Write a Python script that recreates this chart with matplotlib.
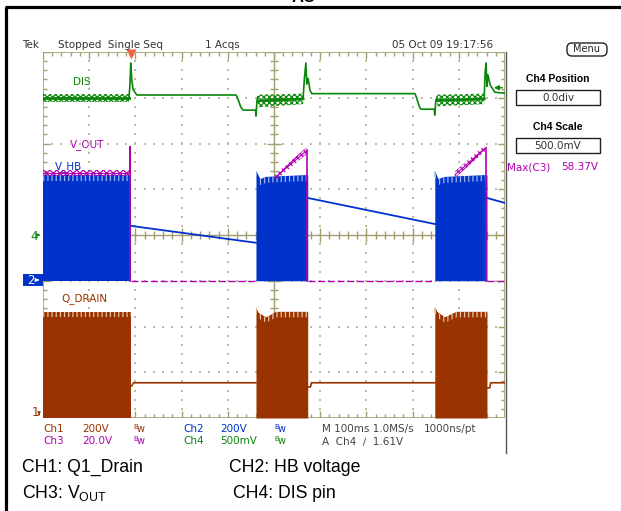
import numpy as np
import matplotlib.pyplot as plt
from matplotlib.collections import LineCollection
from matplotlib.patches import Rectangle, FancyBboxPatch

plt.rcParams["mathtext.fontset"] = "custom"
plt.rcParams["mathtext.rm"] = "Liberation Sans"
plt.rcParams["hatch.linewidth"] = 0.9

# ---- data (x in divisions at 100 ms/div, y in divisions, 8 div tall) ----
hb_top_x = [[0.0, 1.90], [4.61, 4.70, 4.83, 5.73], [8.48, 8.55, 8.70, 9.61]]
hb_top_y = [[5.31, 5.31], [5.40, 5.22, 5.27, 5.31], [5.40, 5.22, 5.27, 5.31]]
hb_ground = 3.0
hb_decay_x = [[1.90, 4.61], [5.73, 8.48], [9.61, 10.0]]
hb_decay_y = [[4.20, 3.83], [4.81, 4.24], [4.81, 4.70]]

drain_top_x = [[0.0, 1.90], [4.61, 4.66, 4.83, 5.05, 5.73], [8.48, 8.53, 8.70, 8.95, 9.61]]
drain_top_y = [[2.32, 2.32], [2.40, 2.30, 2.20, 2.32, 2.32], [2.42, 2.32, 2.20, 2.32, 2.32]]
drain_ground = 0.0
drain_off_x = [[1.90, 1.92, 1.96, 4.61], [5.73, 5.79, 5.81, 8.48], [9.61, 9.67, 9.69, 10.0]]
drain_off_y = [[0.70, 0.70, 0.77, 0.77], [0.68, 0.68, 0.77, 0.77], [0.66, 0.66, 0.77, 0.77]]

vout_ground = 3.0
vout_on_x = [[0.0, 1.87], [5.02, 5.71], [8.92, 9.57]]
vout_on_y = [[5.36, 5.36], [5.25, 5.85], [5.32, 5.90]]
vout_peak_x = [1.89, 5.72, 9.59]
vout_peak_y = [5.92, 5.86, 5.90]
vout_off_x = [[1.90, 4.61], [5.73, 8.48], [9.61, 10.0]]

dis_ripple_x = [[0.0, 1.86], [4.65, 5.63], [8.53, 9.55]]
dis_ripple_lo = [[6.90, 6.90], [6.79, 6.86], [6.81, 6.86]]
dis_ripple_hi = [[7.09, 7.09], [7.07, 7.09], [7.07, 7.09]]
dis_x = [
    [1.86, 1.88, 1.90, 1.92, 1.95, 2.03, 4.18, 4.22, 4.28, 4.33, 4.60, 4.61, 4.63, 4.65],
    [5.63, 5.66, 5.69, 5.71, 5.74, 5.78, 5.82, 8.05, 8.09, 8.14, 8.18, 8.47, 8.48, 8.50, 8.53],
    [9.55, 9.57, 9.59, 9.61, 9.63, 9.68, 9.78, 10.0],
]
dis_y = [
    [6.99, 7.25, 7.76, 7.40, 7.18, 7.06, 7.06, 6.97, 6.80, 6.73, 6.73, 6.60, 6.92, 7.02],
    [7.00, 7.45, 7.76, 7.30, 7.42, 7.16, 7.09, 7.09, 6.99, 6.82, 6.75, 6.75, 6.62, 6.92, 7.02],
    [7.00, 7.55, 7.76, 7.25, 7.50, 7.28, 7.12, 7.10],
]
trig_level = 7.22

row1 = [("Ch1", "brown"), ("200V", "brown"), ("Bw", "brown"), ("Ch2", "blue"),
        ("200V", "blue"), ("Bw", "blue"), ("M 100ms 1.0MS/s", "gray"), ("1000ns/pt", "gray")]
row2 = [("Ch3", "mag"), ("20.0V", "mag"), ("Bw", "mag"), ("Ch4", "green"),
        ("500mV", "green"), ("Bw", "green"), ("A  Ch4  \u2215  1.61V", "gray")]
row_x = [43, 82, 133, 183, 220, 274, 322, 424]

C = {"brown": "#993300", "blue": "#0033cc", "mag": "#b000b0",
     "green": "#0a870a", "gray": "#444444"}
grat = "#a19e70"
scope_font = ["Liberation Sans Narrow", "DejaVu Sans"]

W, H = 621, 511
fig = plt.figure(figsize=(W / 100, H / 100), dpi=100)
page = fig.add_axes([0, 0, 1, 1])
page.set_xlim(0, W)
page.set_ylim(H, 0)
page.axis("off")

GX0, GX1, GY0, GY1 = 43, 505, 52, 418
ax = fig.add_axes([GX0 / W, 1 - GY1 / H, (GX1 - GX0) / W, (GY1 - GY0) / H])
ax.set_xlim(0, 10)
ax.set_ylim(0, 8)
ax.axis("off")

# ---- graticule ----
dots = np.arange(0.2, 10, 0.2)
for gx in range(1, 10):
    if gx != 5:
        yy = np.arange(0.2, 8, 0.2)
        ax.scatter(np.full_like(yy, gx), yy, s=0.9, marker="s", color="#bdbba4", lw=0, zorder=1)
for gy in range(1, 8):
    if gy != 4:
        ax.scatter(dots, np.full_like(dots, gy), s=0.9, marker="s", color="#bdbba4", lw=0, zorder=1)

segs = []
for t in np.arange(0, 10.001, 0.2):
    big = abs(t - round(t)) < 1e-6
    lx = 0.15 if big else 0.085
    segs.append([(t, 4 - lx), (t, 4 + lx)])
    segs.append([(t, 8), (t, 8 - lx)])
    segs.append([(t, 0), (t, lx)])
for t in np.arange(0, 8.001, 0.2):
    big = abs(t - round(t)) < 1e-6
    lx = 0.15 if big else 0.085
    segs.append([(5 - lx, t), (5 + lx, t)])
    segs.append([(10, t), (10 - lx, t)])
    segs.append([(0, t), (lx, t)])
ax.add_collection(LineCollection(segs, colors=grat, lw=1.0, zorder=1))
ax.axhline(4, color=grat, lw=1.0, zorder=1)
ax.axvline(5, color=grat, lw=1.0, zorder=1)
ax.add_patch(Rectangle((0, 0), 10, 8, fill=False, ec=grat, lw=1.2, zorder=1))

# ---- CH1 drain ----
for xs, ys in zip(drain_top_x, drain_top_y):
    ax.fill_between(xs, drain_ground, ys, color=C["brown"], lw=0, zorder=3)
    ax.fill_between(xs, np.array(ys) - 0.12, ys, facecolor=C["brown"], edgecolor="#e9c0a6",
                    hatch="||||", lw=0, zorder=3.1)
for xs, ys in zip(drain_off_x, drain_off_y):
    ax.plot(xs, ys, color=C["brown"], lw=1.2, zorder=3)

# ---- CH2 half bridge ----
for xs, ys in zip(hb_top_x, hb_top_y):
    ax.fill_between(xs, hb_ground, ys, color=C["blue"], lw=0, zorder=3)
    ax.fill_between(xs, np.array(ys) - 0.13, ys, facecolor=C["blue"], edgecolor="#9db2f0",
                    hatch="||||", lw=0, zorder=3.1)
for xs, ys in zip(hb_decay_x, hb_decay_y):
    ax.plot(xs, ys, color=C["blue"], lw=1.3, zorder=3)

# ---- CH3 output ----
for xs, ys in zip(vout_on_x, vout_on_y):
    xs = np.array(xs)
    ys = np.array(ys)
    ax.fill_between(xs, ys - 0.07, ys + 0.07, facecolor="none", edgecolor=C["mag"],
                    hatch="xxxxx", lw=0, zorder=4)
    ax.plot(xs, ys, color=C["mag"], lw=0.8, zorder=4)
for xs, px, py, y0 in zip(vout_off_x, vout_peak_x, vout_peak_y, [5.36, 5.85, 5.90]):
    ax.plot([px, px, px], [y0, py, vout_ground], color=C["mag"], lw=1.2, zorder=4)
    ax.plot(xs, [vout_ground, vout_ground], color=C["mag"], lw=1.0,
            ls=(0, (5, 2)), zorder=4)

# ---- CH4 DIS ----
for xs, lo, hi in zip(dis_ripple_x, dis_ripple_lo, dis_ripple_hi):
    ax.fill_between(xs, lo, hi, facecolor="none", edgecolor=C["green"],
                    hatch="xxxxxx", lw=0, zorder=5)
    ax.plot(xs, (np.array(lo) + np.array(hi)) / 2, color=C["green"], lw=2.0, zorder=5)
for xs, ys in zip(dis_x, dis_y):
    ax.plot(xs, ys, color=C["green"], lw=1.2, zorder=5)
ax.annotate("", xy=(9.7, trig_level), xytext=(10.0, trig_level),
            arrowprops=dict(arrowstyle="-|>", color=C["green"], lw=1.0, mutation_scale=7),
            zorder=6)

# trace labels
tk = dict(family=scope_font, fontsize=7.5, va="center", zorder=7)
page.text(73, 82, "DIS", color=C["green"], **tk)
page.text(70, 145, "V_OUT", color=C["mag"], **tk)
page.text(55, 167, "V_HB", color=C["blue"], **tk)
page.text(61, 299, "Q_DRAIN", color=C["brown"], **tk)

# ground markers
page.text(30, 236, "4", color=C["green"], family=scope_font, fontsize=8.5, va="center")
page.annotate("", xy=(43, 235), xytext=(36, 235),
              arrowprops=dict(arrowstyle="-|>", color=C["green"], lw=0.8, mutation_scale=5))
page.add_patch(Rectangle((23, 274), 20, 12, color=C["blue"], lw=0))
page.text(27, 281, "2", color="white", family=scope_font, fontsize=8.5, va="center")
page.annotate("", xy=(42, 280), xytext=(35, 280),
              arrowprops=dict(arrowstyle="-|>", color="white", lw=0.8, mutation_scale=5))
page.text(32, 413, "1", color=C["brown"], family=scope_font, fontsize=8.5, va="center")
page.annotate("", xy=(39, 418), xytext=(39, 412),
              arrowprops=dict(arrowstyle="-|>", color=C["brown"], lw=0.8, mutation_scale=4))

# trigger position marker
page.plot(131, 54.5, marker="v", ms=6.5, color="#ff5a36", mec="none")

# ---- header ----
hk = dict(family=scope_font, fontsize=7.5, va="center", color="#333333")
page.text(22, 45, "Tek", **hk)
page.text(58, 45, "Stopped  Single Seq", **hk)
page.text(205, 45, "1 Acqs", **hk)
page.text(392, 45, "05 Oct 09 19:17:56", **hk)

# screen right edge
page.plot([506, 506], [52, 453], color="#555555", lw=1.0)

# ---- right panel ----
page.add_patch(FancyBboxPatch((567, 43), 40, 13, boxstyle="round,pad=0,rounding_size=5",
                              fc="white", ec="#222222", lw=1.0))
page.text(587, 49.5, "Menu", ha="center", va="center", family=scope_font, fontsize=7, color="#222222")
bk = dict(family="Liberation Sans", fontsize=7.5, weight="bold", ha="center", va="center")
page.text(558, 79, "Ch4 Position", **bk)
page.add_patch(Rectangle((516, 90), 84, 15, fc="white", ec="#222222", lw=1.0))
page.text(558, 98, "0.0div", ha="center", va="center", family=scope_font, fontsize=7.5, color="#333333")
page.text(558, 127, "Ch4 Scale", **bk)
page.add_patch(Rectangle((516, 138), 84, 15, fc="white", ec="#222222", lw=1.0))
page.text(558, 146, "500.0mV", ha="center", va="center", family=scope_font, fontsize=7.5, color="#333333")
page.text(507, 167, "Max(C3)", color=C["mag"], family=scope_font, fontsize=7.5, va="center")
page.text(598, 167, "58.37V", color=C["mag"], family=scope_font, fontsize=7.5, va="center", ha="right")

# ---- channel readouts ----
for row, yy in ((row1, 429), (row2, 441)):
    for (s, c), xx in zip(row, row_x):
        if s == "Bw":
            page.text(xx, yy - 2, "B", color=C[c], family=scope_font, fontsize=5, va="center")
            page.text(xx + 4, yy, "w", color=C[c], family=scope_font, fontsize=7, va="center")
        else:
            page.text(xx, yy, s, color=C[c], family=scope_font, fontsize=7.5, va="center")

# ---- caption ----
ck = dict(family="Liberation Sans", fontsize=12.7, color="black", va="baseline")
page.text(22, 472, "CH1: Q1_Drain", **ck)
page.text(229, 472, "CH2: HB voltage", **ck)
page.text(22, 498, r"CH3: V$_{\mathrm{OUT}}$", **ck)
page.text(233, 498, "CH4: DIS pin", **ck)

# title line cut off above the frame, only its lowest pixels show
tt = dict(family="Liberation Sans", weight="bold", color="black", va="baseline")
page.text(77, -4.5, "y", fontsize=14, **tt)
page.text(139, -4.5, "p", fontsize=14, **tt)
page.text(292, 2.5, "AC", fontsize=12, **tt)

# document frame
page.plot([5, W], [7.5, 7.5], color="black", lw=2.3, solid_capstyle="butt")
page.plot([6, 6], [7, H], color="black", lw=2.3, solid_capstyle="butt")

fig.savefig("out.png", dpi=100)
